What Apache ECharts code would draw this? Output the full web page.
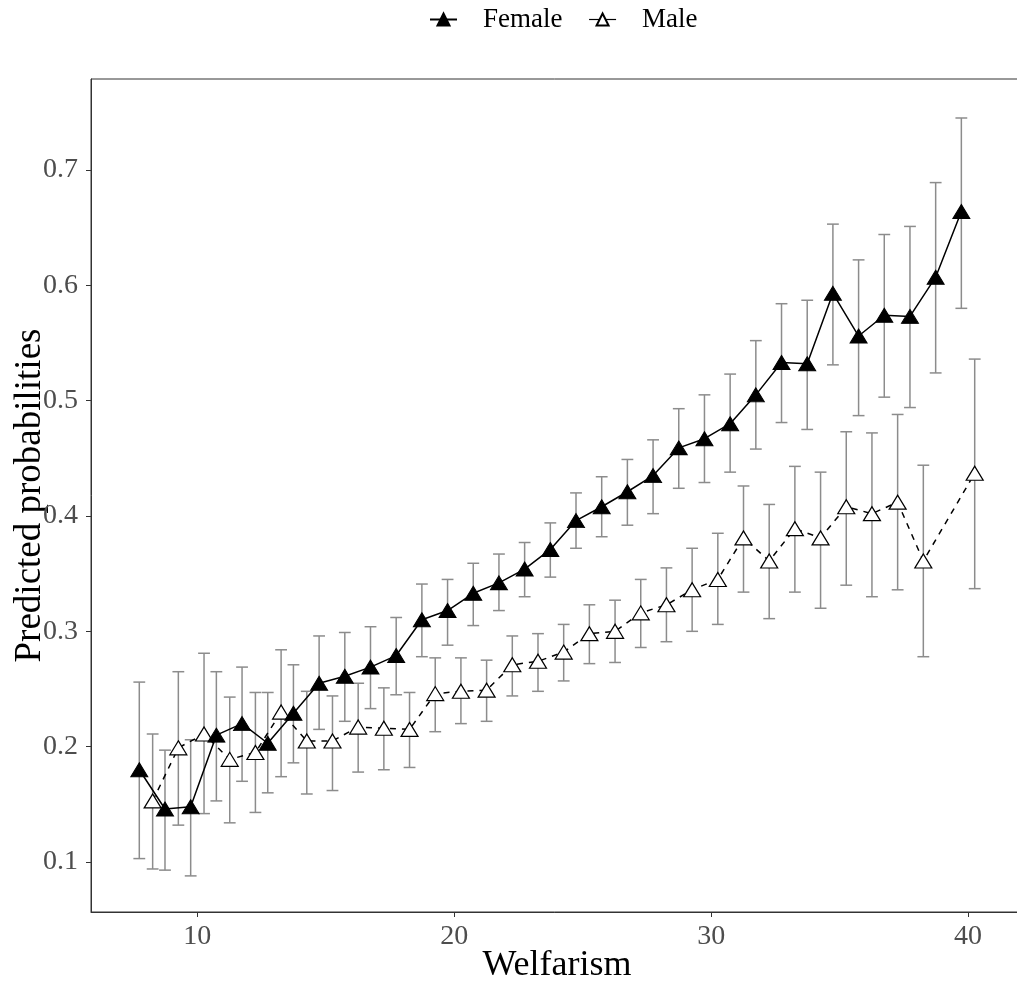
<!DOCTYPE html>
<html>
<head>
<meta charset="utf-8">
<script src="https://cdn.jsdelivr.net/npm/echarts@6/dist/echarts.min.js"></script>
<style>
html,body{margin:0;padding:0;background:#fff;overflow:hidden;}
#chart{width:1017px;height:981px;}
</style>
</head>
<body>
<div id="chart"></div>
<script>
const welfarism = [8,9,10,11,12,13,14,15,16,17,18,19,20,21,22,23,24,25,26,27,28,29,30,31,32,33,34,35,36,37,38,39,40];

const femaleProb = [0.180,0.146,0.148,0.210,0.220,0.203,0.229,0.255,0.261,0.269,0.279,0.310,0.318,0.333,0.342,0.354,0.371,0.396,0.408,0.421,0.435,0.459,0.467,0.480,0.505,0.533,0.532,0.593,0.556,0.574,0.573,0.607,0.664];
const femaleLow  = [0.103,0.093,0.088,0.153,0.170,0.160,0.186,0.215,0.222,0.233,0.245,0.278,0.288,0.305,0.318,0.330,0.347,0.372,0.382,0.392,0.402,0.424,0.429,0.438,0.458,0.481,0.475,0.531,0.487,0.503,0.494,0.524,0.580];
const femaleHigh = [0.256,0.197,0.206,0.265,0.269,0.247,0.271,0.296,0.299,0.304,0.312,0.341,0.345,0.359,0.367,0.377,0.394,0.420,0.434,0.449,0.466,0.493,0.505,0.523,0.552,0.584,0.587,0.653,0.622,0.644,0.651,0.689,0.745];

const maleProb = [0.153,0.199,0.211,0.189,0.195,0.230,0.205,0.205,0.217,0.216,0.215,0.246,0.248,0.249,0.271,0.274,0.282,0.298,0.300,0.316,0.323,0.336,0.345,0.381,0.361,0.389,0.381,0.408,0.402,0.412,0.361,null,0.437];
const maleLow  = [0.094,0.132,0.142,0.134,0.143,0.174,0.159,0.162,0.178,0.180,0.182,0.213,0.220,0.222,0.244,0.248,0.257,0.272,0.273,0.286,0.291,0.300,0.306,0.334,0.311,0.334,0.320,0.340,0.330,0.336,0.278,null,0.337];
const maleHigh = [0.211,0.265,0.281,0.243,0.247,0.284,0.248,0.244,0.255,0.251,0.247,0.277,0.277,0.275,0.296,0.298,0.306,0.323,0.327,0.345,0.355,0.372,0.385,0.426,0.410,0.443,0.438,0.473,0.472,0.488,0.444,null,0.536];

const xTicks = [10,20,30,40];
const yTicks = [0.1,0.2,0.3,0.4,0.5,0.6,0.7];

const dodge = 0.26;
const whiskerHalf = 0.23;
const FONT = '"Liberation Serif", "DejaVu Serif", serif';

function pts(prob, off) {
  const out = [];
  welfarism.forEach((w, i) => { if (prob[i] != null) out.push([w + off, prob[i]]); });
  return out;
}
function bars(lo, hi, off) {
  const out = [];
  welfarism.forEach((w, i) => { if (lo[i] != null) out.push([w + off, lo[i], hi[i]]); });
  return out;
}

function renderErr(params, api) {
  const x = api.value(0), lo = api.value(1), hi = api.value(2);
  const a = api.coord([x, lo]);
  const b = api.coord([x, hi]);
  const hw = api.size([whiskerHalf, 0])[0];
  const style = { stroke: '#8c8c8c', lineWidth: 1.5 };
  return {
    type: 'group',
    children: [
      { type: 'line', shape: { x1: a[0], y1: a[1], x2: b[0], y2: b[1] }, style },
      { type: 'line', shape: { x1: a[0]-hw, y1: a[1], x2: a[0]+hw, y2: a[1] }, style },
      { type: 'line', shape: { x1: b[0]-hw, y1: b[1], x2: b[0]+hw, y2: b[1] }, style }
    ]
  };
}

const chart = echarts.init(document.getElementById('chart'), null, { renderer: 'canvas' });
chart.setOption({
  animation: false,
  backgroundColor: '#fff',
  textStyle: { fontFamily: FONT },
  legend: {
    top: 6,
    left: 429,
    padding: 0,
    itemWidth: 27,
    itemHeight: 15,
    itemGap: 26,
    textStyle: { fontFamily: FONT, fontSize: 27, color: '#000', padding: [0,0,0,21] },
    data: [
      { name: 'Female' },
      { name: 'Male', lineStyle: { type: 'solid', width: 1.2 } }
    ]
  },
  grid: { left: 91, top: 79, bottom: 69, right: -6, outerBoundsMode: 'none', containLabel: false, show: true, borderColor: '#333', borderWidth: 1, backgroundColor: 'transparent' },
  xAxis: {
    type: 'value', min: 5.86, max: 42.14,
    name: 'Welfarism', nameLocation: 'middle', nameGap: 36, nameMoveOverlap: false,
    nameTextStyle: { fontFamily: FONT, fontSize: 36, color: '#000' },
    axisLine: { show: true, onZero: false, lineStyle: { color: '#333', width: 1 } },
    axisTick: { show: true, length: 5, lineStyle: { color: '#333' }, customValues: xTicks },
    axisLabel: { fontFamily: FONT, fontSize: 28, color: '#4d4d4d', margin: 11, customValues: xTicks },
    splitLine: { show: false }
  },
  yAxis: {
    type: 'value', min: 0.0567, max: 0.7788,
    name: 'Predicted probabilities', nameLocation: 'middle', nameGap: 42, nameMoveOverlap: false,
    nameTextStyle: { fontFamily: FONT, fontSize: 37, color: '#000' },
    axisLine: { show: true, onZero: false, lineStyle: { color: '#333', width: 1 } },
    axisTick: { show: true, length: 5, lineStyle: { color: '#333' }, customValues: yTicks },
    axisLabel: { fontFamily: FONT, fontSize: 28, color: '#4d4d4d', margin: 13, customValues: yTicks, formatter: v => v.toFixed(1) },
    splitLine: { show: false }
  },
  series: [
    { name: 'FemaleErr', type: 'custom', renderItem: renderErr, data: bars(femaleLow, femaleHigh, -dodge), z: 1, silent: true },
    { name: 'MaleErr', type: 'custom', renderItem: renderErr, data: bars(maleLow, maleHigh, dodge), z: 1, silent: true },
    {
      name: 'Female', type: 'line', data: pts(femaleProb, -dodge), z: 3,
      symbol: 'triangle', symbolSize: [17, 14], showSymbol: true,
      lineStyle: { color: '#000', width: 1.5 },
      itemStyle: { color: '#000', borderColor: '#000', borderWidth: 1 }
    },
    {
      name: 'Male', type: 'line', data: pts(maleProb, dodge), z: 2,
      symbol: 'triangle', symbolSize: [17, 14], showSymbol: true,
      lineStyle: { color: '#000', width: 1.5, type: [6, 6] },
      itemStyle: { color: '#fff', borderColor: '#000', borderWidth: 1.2 }
    }
  ]
});
</script>
</body>
</html>
